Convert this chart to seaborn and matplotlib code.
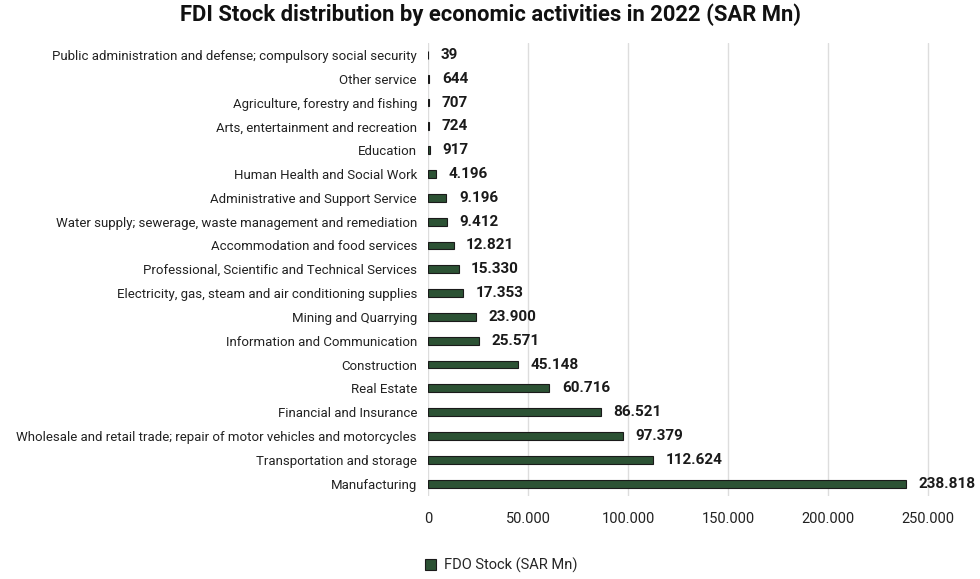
import matplotlib
matplotlib.use('Agg')
import matplotlib.pyplot as plt
import seaborn as sns
import pandas as pd

activities = [
    'Public administration and defense; compulsory social security',
    'Other service',
    'Agriculture, forestry and fishing',
    'Arts, entertainment and recreation',
    'Education',
    'Human Health and Social Work',
    'Administrative and Support Service',
    'Water supply; sewerage, waste management and remediation',
    'Accommodation and food services',
    'Professional, Scientific and Technical Services',
    'Electricity, gas, steam and air conditioning supplies',
    'Mining and Quarrying',
    'Information and Communication',
    'Construction',
    'Real Estate',
    'Financial and Insurance',
    'Wholesale and retail trade; repair of motor vehicles and motorcycles',
    'Transportation and storage',
    'Manufacturing',
]
stock = [39, 644, 707, 724, 917, 4196, 9196, 9412, 12821, 15330, 17353,
         23900, 25571, 45148, 60716, 86521, 97379, 112624, 238818]
xticks = [0, 50000, 100000, 150000, 200000, 250000]

df = pd.DataFrame({'activity': activities, 'stock': stock})

sns.set_theme(style="white")
plt.rcParams['font.family'] = ['Roboto', 'DejaVu Sans']

fig = plt.figure(figsize=(9.8, 5.79), dpi=100)
ax = fig.add_axes([428 / 980, 1 - 495.5 / 579, (968 - 428) / 980, (495.5 - 43) / 579])

GREEN = '#2c5234'
sns.barplot(data=df, x='stock', y='activity', orient='h', color=GREEN,
            saturation=1, width=0.33, edgecolor='#1a1a1a', linewidth=0.8,
            ax=ax, legend=False)

def fmt(v):
    return f'{v:,}'.replace(',', '.')

for i, v in enumerate(stock):
    ax.annotate(fmt(v), (v, i), xytext=(9, 0), textcoords='offset points',
                va='center', ha='left', fontsize=11, fontweight='bold', color='#1a1a1a')

ax.set_xlim(0, 270000)
ax.set_ylim(len(stock) - 0.5, -0.5)
ax.set_xticks(xticks)
ax.set_xticklabels([fmt(t) for t in xticks], fontsize=10.5, color='#222222')
ax.tick_params(axis='y', labelsize=9.5, labelcolor='#222222', length=0, pad=8)
ax.tick_params(axis='x', length=0, pad=12)
ax.xaxis.grid(True, color='#dddddd', linewidth=1)
ax.set_axisbelow(True)
for s in ax.spines.values():
    s.set_visible(False)
ax.set_xlabel('')
ax.set_ylabel('')

fig.text(0.5, 1 - 15 / 579, 'FDI Stock distribution by economic activities in 2022 (SAR Mn)',
         ha='center', va='center', fontsize=15.8, fontweight='bold', color='#111111')

handles = [plt.Rectangle((0, 0), 1, 1, facecolor=GREEN, edgecolor='#1a1a1a', linewidth=0.8)]
fig.legend(handles, ['FDO Stock (SAR Mn)'], loc='center', bbox_to_anchor=(0.511, 1 - 565 / 579),
           frameon=False, fontsize=10.5, handlelength=0.8, handleheight=0.8, handletextpad=0.5)

fig.savefig('out.png', dpi=100, facecolor='white')
